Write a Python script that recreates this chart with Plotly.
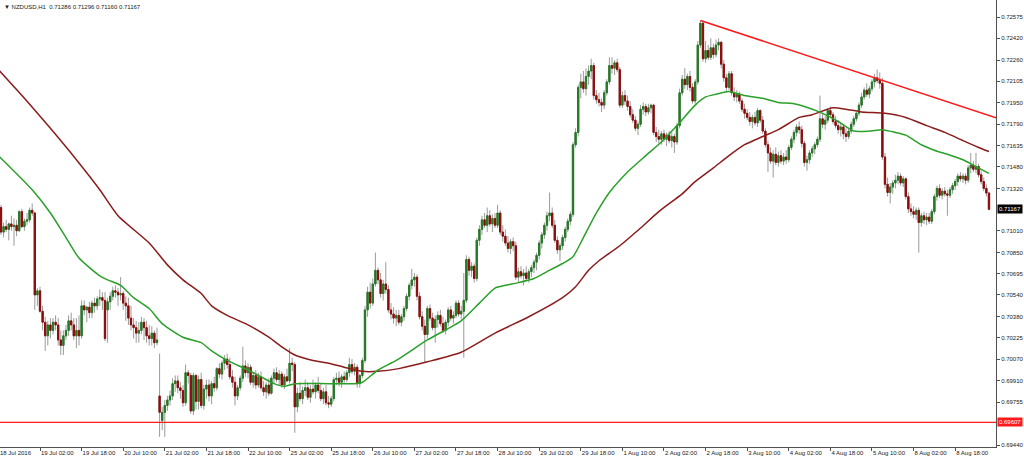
import plotly.graph_objects as go

# ---------------- data (NZDUSD H1) ----------------
SYMBOL_TITLE = "\u25BC NZDUSD,H1  0.71286 0.71296 0.71160 0.71167"

OPEN = [
0.7114,0.7118,0.7100,0.7104,0.7102,0.7106,0.7104,0.7105,0.7101,0.7115,
0.7104,0.7108,0.7109,0.7116,0.7114,0.7054,0.7057,0.7042,0.7034,0.7024,
0.7032,0.7028,0.7034,0.7032,0.7021,0.7017,0.7024,0.7028,0.7035,0.7032,
0.7024,0.7028,0.7024,0.7046,0.7043,0.7045,0.7041,0.7048,0.7046,0.7051,
0.7052,0.7050,0.7043,0.7049,0.7053,0.7057,0.7056,0.7054,0.7055,0.7048,
0.7046,0.7037,0.7032,0.7030,0.7026,0.7028,0.7034,0.7030,0.7024,0.7022,
0.7026,0.7019,0.6980,0.6962,0.6968,0.6973,0.6977,0.6980,0.6989,0.6991,
0.6986,0.6984,0.6975,0.6997,0.6995,0.6969,0.6995,0.6976,0.6992,0.6973,
0.6985,0.6988,0.6980,0.6989,0.6986,0.7000,0.6996,0.7004,0.7007,0.7003,
0.6994,0.6990,0.6980,0.6986,0.6993,0.7002,0.6997,0.7001,0.6990,0.6995,
0.6988,0.6994,0.6986,0.6983,0.6988,0.6982,0.6993,0.6997,0.6992,0.6996,
0.6988,0.6994,0.6991,0.7004,0.7003,0.6972,0.6982,0.6978,0.6984,0.6986,
0.6979,0.6985,0.6983,0.6988,0.6984,0.6978,0.6983,0.6975,0.6974,0.6978,
0.6992,0.6993,0.6990,0.6994,0.6992,0.6997,0.7003,0.6998,0.7001,0.6989,
0.6995,0.7006,0.7043,0.7056,0.7048,0.7062,0.7072,0.7065,0.7055,0.7062,
0.7058,0.7043,0.7040,0.7037,0.7039,0.7034,0.7038,0.7044,0.7053,0.7061,
0.7065,0.7067,0.7053,0.7038,0.7031,0.7025,0.7044,0.7037,0.7030,0.7036,
0.7039,0.7033,0.7028,0.7034,0.7043,0.7037,0.7039,0.7048,0.7040,0.7042,
0.7050,0.7080,0.7072,0.7075,0.7066,0.7094,0.7102,0.7109,0.7105,0.7112,
0.7106,0.7110,0.7105,0.7114,0.7100,0.7097,0.7092,0.7088,0.7093,0.7090,
0.7067,0.7071,0.7068,0.7070,0.7066,0.7071,0.7074,0.7078,0.7083,0.7092,
0.7098,0.7105,0.7112,0.7114,0.7105,0.7094,0.7087,0.7090,0.7096,0.7102,
0.7108,0.7113,0.7164,0.7173,0.7206,0.7210,0.7205,0.7214,0.7218,0.7222,
0.7200,0.7197,0.7195,0.7193,0.7202,0.7210,0.7222,0.7220,0.7224,0.7219,
0.7193,0.7200,0.7196,0.7192,0.7186,0.7182,0.7176,0.7179,0.7190,0.7192,
0.7188,0.7191,0.7193,0.7173,0.7170,0.7168,0.7172,0.7168,0.7171,0.7167,
0.7170,0.7166,0.7178,0.7202,0.7212,0.7208,0.7214,0.7206,0.7196,0.7210,
0.7237,0.7253,0.7227,0.7233,0.7228,0.7235,0.7230,0.7237,0.7239,0.7223,
0.7213,0.7206,0.7216,0.7202,0.7199,0.7201,0.7196,0.7190,0.7187,0.7184,
0.7181,0.7184,0.7180,0.7189,0.7182,0.7174,0.7164,0.7158,0.7152,0.7157,
0.7151,0.7156,0.7152,0.7155,0.7153,0.7162,0.7168,0.7173,0.7177,0.7175,
0.7165,0.7151,0.7153,0.7158,0.7161,0.7164,0.7168,0.7183,0.7179,0.7182,
0.7189,0.7186,0.7181,0.7178,0.7175,0.7177,0.7172,0.7170,0.7174,0.7179,
0.7183,0.7187,0.7193,0.7199,0.7204,0.7201,0.7205,0.7210,0.7213,0.7211,
0.7209,0.7155,0.7135,0.7129,0.7133,0.7136,0.7138,0.7141,0.7136,0.7139,
0.7126,0.7117,0.7115,0.7113,0.7116,0.7107,0.7112,0.7109,0.7111,0.7108,
0.7115,0.7126,0.7132,0.7127,0.7130,0.7128,0.7127,0.7131,0.7134,0.7137,
0.7141,0.7139,0.7141,0.7138,0.7147,0.7149,0.7146,0.7148,0.7142,0.7137,
0.7132,0.71286]

HIGH = [
0.7119,0.7120,0.7107,0.7109,0.7107,0.7112,0.7110,0.7109,0.7116,0.7117,
0.7110,0.7114,0.7118,0.7121,0.7115,0.7059,0.7060,0.7046,0.7038,0.7035,
0.7037,0.7037,0.7039,0.7037,0.7028,0.7028,0.7032,0.7039,0.7041,0.7037,
0.7037,0.7039,0.7050,0.7050,0.7046,0.7049,0.7050,0.7052,0.7053,0.7058,
0.7056,0.7056,0.7052,0.7056,0.7060,0.7061,0.7059,0.7067,0.7057,0.7053,
0.7052,0.7046,0.7037,0.7035,0.7034,0.7038,0.7037,0.7035,0.7032,0.7031,
0.7028,0.7030,0.7011,0.6972,0.6977,0.6980,0.6984,0.6993,0.6995,0.6995,
0.6990,0.6988,0.7003,0.6999,0.6997,0.6997,0.6996,0.6995,0.6997,0.6988,
0.6992,0.6992,0.6991,0.6994,0.7001,0.7004,0.7006,0.7010,0.7011,0.7008,
0.6999,0.6994,0.6988,0.6995,0.7016,0.7006,0.7004,0.7003,0.6997,0.6999,
0.6997,0.6998,0.6991,0.6990,0.6993,0.6995,0.7000,0.7001,0.6999,0.6998,
0.6996,0.7000,0.7015,0.7008,0.7005,0.6986,0.6990,0.6987,0.6992,0.6990,
0.6988,0.6992,0.6990,0.6994,0.6989,0.6986,0.6988,0.6980,0.6980,0.6994,
0.6997,0.6998,0.6996,0.6998,0.6999,0.7008,0.7007,0.7004,0.7003,0.6996,
0.7008,0.7046,0.7060,0.7063,0.7066,0.7085,0.7074,0.7070,0.7065,0.7078,
0.7061,0.7048,0.7045,0.7043,0.7043,0.7040,0.7046,0.7055,0.7063,0.7073,
0.7070,0.7069,0.7056,0.7042,0.7036,0.7046,0.7047,0.7041,0.7039,0.7042,
0.7043,0.7038,0.7036,0.7045,0.7046,0.7042,0.7050,0.7050,0.7046,0.7070,
0.7083,0.7082,0.7078,0.7077,0.7096,0.7105,0.7112,0.7114,0.7118,0.7116,
0.7113,0.7114,0.7120,0.7116,0.7105,0.7102,0.7097,0.7095,0.7096,0.7093,
0.7074,0.7075,0.7073,0.7075,0.7073,0.7076,0.7080,0.7085,0.7094,0.7100,
0.7107,0.7115,0.7129,0.7118,0.7109,0.7097,0.7092,0.7098,0.7104,0.7110,
0.7115,0.7166,0.7176,0.7208,0.7216,0.7218,0.7220,0.7222,0.7227,0.7224,
0.7204,0.7202,0.7198,0.7204,0.7212,0.7228,0.7228,0.7226,0.7227,0.7221,
0.7203,0.7204,0.7200,0.7196,0.7190,0.7185,0.7181,0.7193,0.7195,0.7194,
0.7194,0.7194,0.7194,0.7177,0.7175,0.7174,0.7175,0.7173,0.7174,0.7173,
0.7172,0.7180,0.7205,0.7215,0.7220,0.7216,0.7218,0.7209,0.7212,0.7240,
0.7255,0.7255,0.7240,0.7237,0.7242,0.7238,0.7241,0.7242,0.7240,0.7226,
0.7216,0.7218,0.7218,0.7206,0.7204,0.7203,0.7198,0.7194,0.7190,0.7188,
0.7186,0.7188,0.7191,0.7190,0.7185,0.7176,0.7167,0.7162,0.7160,0.7162,
0.7159,0.7160,0.7158,0.7160,0.7164,0.7170,0.7175,0.7179,0.7181,0.7178,
0.7167,0.7156,0.7160,0.7163,0.7166,0.7170,0.7200,0.7187,0.7185,0.7191,
0.7192,0.7188,0.7185,0.7182,0.7180,0.7179,0.7176,0.7176,0.7181,0.7185,
0.7188,0.7195,0.7202,0.7206,0.7209,0.7207,0.7212,0.7216,0.7219,0.7217,
0.7213,0.7158,0.7140,0.7136,0.7138,0.7142,0.7144,0.7143,0.7141,0.7140,
0.7129,0.7121,0.7119,0.7118,0.7118,0.7114,0.7115,0.7114,0.7114,0.7117,
0.7128,0.7134,0.7135,0.7132,0.7133,0.7131,0.7133,0.7136,0.7139,0.7143,
0.7144,0.7143,0.7143,0.7149,0.7158,0.7152,0.7158,0.7150,0.7145,0.7140,
0.7135,0.71296]

LOW = [
0.7112,0.7098,0.7096,0.7100,0.7094,0.7101,0.7090,0.7097,0.7100,0.7103,
0.7101,0.7105,0.7107,0.7112,0.7043,0.7046,0.7041,0.7028,0.7013,0.7017,
0.7022,0.7025,0.7028,0.7017,0.7010,0.7010,0.7021,0.7024,0.7028,0.7021,
0.7015,0.7017,0.7022,0.7039,0.7034,0.7037,0.7037,0.7041,0.7043,0.7046,
0.7043,0.7020,0.7019,0.7043,0.7050,0.7052,0.7046,0.7050,0.7043,0.7035,
0.7032,0.7028,0.7022,0.7019,0.7019,0.7025,0.7021,0.7019,0.7017,0.7017,
0.7015,0.7017,0.6950,0.6955,0.6950,0.6969,0.6973,0.6977,0.6983,0.6982,
0.6978,0.6972,0.6973,0.6989,0.6967,0.6966,0.6970,0.6970,0.6971,0.6970,
0.6978,0.6976,0.6974,0.6983,0.6984,0.6993,0.6992,0.6999,0.7000,0.6992,
0.6986,0.6973,0.6977,0.6984,0.6990,0.6994,0.6993,0.6988,0.6986,0.6985,
0.6986,0.6984,0.6980,0.6978,0.6980,0.6981,0.6989,0.6990,0.6988,0.6986,
0.6985,0.6990,0.6989,0.6998,0.6953,0.6968,0.6976,0.6974,0.6980,0.6977,
0.6975,0.6981,0.6978,0.6982,0.6976,0.6974,0.6973,0.6971,0.6972,0.6976,
0.6988,0.6987,0.6986,0.6989,0.6990,0.6994,0.6996,0.6995,0.6986,0.6986,
0.6993,0.7004,0.7038,0.7044,0.7046,0.7060,0.7062,0.7052,0.7050,0.7055,
0.7041,0.7036,0.7033,0.7031,0.7032,0.7031,0.7035,0.7042,0.7050,0.7058,
0.7060,0.7050,0.7036,0.7028,0.7004,0.7022,0.7035,0.7028,0.7019,0.7030,
0.7031,0.7026,0.7025,0.7031,0.7035,0.7033,0.7037,0.7038,0.7036,0.7008,
0.7048,0.7068,0.7067,0.7063,0.7064,0.7090,0.7098,0.7103,0.7100,0.7104,
0.7100,0.7103,0.7103,0.7098,0.7093,0.7090,0.7085,0.7084,0.7086,0.7065,
0.7063,0.7066,0.7061,0.7064,0.7063,0.7067,0.7070,0.7072,0.7080,0.7088,
0.7095,0.7101,0.7108,0.7103,0.7092,0.7084,0.7079,0.7087,0.7093,0.7100,
0.7105,0.7111,0.7162,0.7170,0.7198,0.7202,0.7200,0.7208,0.7212,0.7197,
0.7194,0.7192,0.7188,0.7190,0.7200,0.7208,0.7216,0.7215,0.7217,0.7191,
0.7191,0.7193,0.7189,0.7184,0.7180,0.7174,0.7171,0.7177,0.7186,0.7185,
0.7186,0.7187,0.7171,0.7166,0.7165,0.7164,0.7166,0.7163,0.7165,0.7162,
0.7158,0.7164,0.7176,0.7200,0.7205,0.7204,0.7203,0.7194,0.7194,0.7208,
0.7235,0.7225,0.7224,0.7226,0.7226,0.7227,0.7228,0.7233,0.7220,0.7210,
0.7203,0.7204,0.7200,0.7196,0.7195,0.7194,0.7188,0.7183,0.7182,0.7178,
0.7176,0.7178,0.7177,0.7180,0.7172,0.7162,0.7144,0.7150,0.7140,0.7149,
0.7148,0.7150,0.7149,0.7150,0.7151,0.7160,0.7165,0.7170,0.7172,0.7162,
0.7148,0.7145,0.7150,0.7155,0.7157,0.7162,0.7166,0.7176,0.7175,0.7180,
0.7184,0.7179,0.7176,0.7172,0.7170,0.7168,0.7166,0.7168,0.7172,0.7177,
0.7181,0.7185,0.7191,0.7197,0.7199,0.7198,0.7203,0.7206,0.7209,0.7205,
0.7153,0.7132,0.7126,0.7121,0.7128,0.7132,0.7135,0.7134,0.7133,0.7124,
0.7114,0.7112,0.7110,0.7109,0.7085,0.7104,0.7106,0.7105,0.7106,0.7106,
0.7113,0.7123,0.7125,0.7124,0.7126,0.7112,0.7125,0.7128,0.7131,0.7134,
0.7137,0.7136,0.7135,0.7136,0.7143,0.7144,0.7143,0.7140,0.7135,0.7130,
0.7126,0.71160]

CLOSE = [
0.7118,0.7100,0.7104,0.7102,0.7106,0.7104,0.7105,0.7101,0.7115,0.7104,
0.7108,0.7109,0.7116,0.7114,0.7054,0.7057,0.7042,0.7034,0.7024,0.7032,
0.7028,0.7034,0.7032,0.7021,0.7017,0.7024,0.7028,0.7035,0.7032,0.7024,
0.7028,0.7024,0.7046,0.7043,0.7045,0.7041,0.7048,0.7046,0.7051,0.7052,
0.7050,0.7022,0.7049,0.7053,0.7057,0.7056,0.7054,0.7055,0.7048,0.7046,
0.7037,0.7032,0.7030,0.7026,0.7028,0.7034,0.7030,0.7024,0.7022,0.7026,
0.7019,0.7021,0.6968,0.6968,0.6973,0.6977,0.6980,0.6989,0.6991,0.6986,
0.6984,0.6975,0.6997,0.6995,0.6969,0.6995,0.6976,0.6992,0.6973,0.6985,
0.6988,0.6980,0.6989,0.6986,0.7000,0.6996,0.7004,0.7007,0.7003,0.6994,
0.6990,0.6980,0.6986,0.6993,0.7002,0.6997,0.7001,0.6990,0.6995,0.6988,
0.6994,0.6986,0.6983,0.6988,0.6982,0.6993,0.6997,0.6992,0.6996,0.6988,
0.6994,0.6991,0.7004,0.7003,0.6972,0.6982,0.6978,0.6984,0.6986,0.6979,
0.6985,0.6983,0.6988,0.6984,0.6978,0.6983,0.6975,0.6974,0.6978,0.6992,
0.6993,0.6990,0.6994,0.6992,0.6997,0.7003,0.6998,0.7001,0.6989,0.6995,
0.7006,0.7043,0.7056,0.7048,0.7062,0.7072,0.7065,0.7055,0.7062,0.7058,
0.7043,0.7040,0.7037,0.7039,0.7034,0.7038,0.7044,0.7053,0.7061,0.7065,
0.7067,0.7053,0.7038,0.7031,0.7025,0.7044,0.7037,0.7030,0.7036,0.7039,
0.7033,0.7028,0.7034,0.7043,0.7037,0.7039,0.7048,0.7040,0.7042,0.7050,
0.7080,0.7072,0.7075,0.7066,0.7094,0.7102,0.7109,0.7105,0.7112,0.7106,
0.7110,0.7105,0.7114,0.7100,0.7097,0.7092,0.7088,0.7093,0.7090,0.7067,
0.7071,0.7068,0.7070,0.7066,0.7071,0.7074,0.7078,0.7083,0.7092,0.7098,
0.7105,0.7112,0.7114,0.7105,0.7094,0.7087,0.7090,0.7096,0.7102,0.7108,
0.7113,0.7164,0.7173,0.7206,0.7210,0.7205,0.7214,0.7218,0.7222,0.7200,
0.7197,0.7195,0.7193,0.7202,0.7210,0.7222,0.7220,0.7224,0.7219,0.7193,
0.7200,0.7196,0.7192,0.7186,0.7182,0.7176,0.7179,0.7190,0.7192,0.7188,
0.7191,0.7193,0.7173,0.7170,0.7168,0.7172,0.7168,0.7171,0.7167,0.7170,
0.7166,0.7178,0.7202,0.7212,0.7208,0.7214,0.7206,0.7196,0.7210,0.7237,
0.7253,0.7227,0.7233,0.7228,0.7235,0.7230,0.7237,0.7239,0.7223,0.7213,
0.7206,0.7216,0.7202,0.7199,0.7201,0.7196,0.7190,0.7187,0.7184,0.7181,
0.7184,0.7180,0.7189,0.7182,0.7174,0.7164,0.7158,0.7152,0.7157,0.7151,
0.7156,0.7152,0.7155,0.7153,0.7162,0.7168,0.7173,0.7177,0.7175,0.7165,
0.7151,0.7153,0.7158,0.7161,0.7164,0.7168,0.7183,0.7179,0.7182,0.7189,
0.7186,0.7181,0.7178,0.7175,0.7177,0.7172,0.7170,0.7174,0.7179,0.7183,
0.7187,0.7193,0.7199,0.7204,0.7201,0.7205,0.7210,0.7213,0.7211,0.7209,
0.7155,0.7135,0.7129,0.7133,0.7136,0.7138,0.7141,0.7136,0.7139,0.7126,
0.7117,0.7115,0.7113,0.7116,0.7107,0.7112,0.7109,0.7111,0.7108,0.7115,
0.7126,0.7132,0.7127,0.7130,0.7128,0.7127,0.7131,0.7134,0.7137,0.7141,
0.7139,0.7141,0.7138,0.7147,0.7149,0.7146,0.7148,0.7142,0.7137,0.7132,
0.71286,0.71167]

# moving averages, read at sample bars
MA_FAST_BARS = [0,13,20,26,31,39,42,47,52,58,63,71,78,82,88,96,101,106,110,114,
                127,137,140,146,153,165,178,185,191,195,200,206,211,217,221,225,230,
                235,242,249,255,261,268,272,276,281,287,294,300,306,310,317,323,329,
                335,340,345,349,355,360,365,371,375,378,381]
MA_FAST = [0.7156,0.7131,0.7114,0.7096,0.7081,0.7068,0.7065,0.7061,0.7052,0.7044,
           0.7033,0.7023,0.7019,0.7013,0.7006,0.6999,0.6994,0.6989,0.6987,0.6989,
           0.6989,0.6989,0.6990,0.6999,0.7006,0.7021,0.7035,0.7048,0.7059,0.7061,
           0.7063,0.7066,0.7071,0.7077,0.7082,0.7096,0.7114,0.7129,0.7144,0.7156,
           0.7166,0.7178,0.7193,0.7199,0.7201,0.7203,0.7200,0.7198,0.7195,0.7194,
           0.7192,0.7187,0.7181,0.7174,0.7174,0.7175,0.7173,0.7171,0.7164,0.7160,
           0.7157,0.7153,0.7149,0.7146,0.7143]

MA_SLOW_BARS = [0,10,20,30,39,46,58,65,71,78,82,88,96,104,109,114,121,127,133,140,
                146,154,165,178,191,204,217,222,227,231,239,247,254,263,268,275,281,
                287,294,300,308,313,321,326,332,341,349,357,364,371,377,381]
MA_SLOW = [0.7219,0.7198,0.7176,0.7153,0.7131,0.7112,0.7092,0.7076,0.7065,0.7055,
           0.7046,0.7039,0.7032,0.7023,0.7016,0.7010,0.7006,0.7004,0.7001,0.6998,
           0.6998,0.7000,0.7005,0.7012,0.7026,0.7038,0.7052,0.7060,0.7072,0.7079,
           0.7090,0.7103,0.7115,0.7128,0.7137,0.7147,0.7156,0.7164,0.7170,0.7175,
           0.7184,0.7186,0.7191,0.7190,0.7188,0.7187,0.7184,0.7178,0.7173,0.7167,
           0.7162,0.7159]

TREND_BARS = [270, 338]
TREND_PRICES = [0.7255, 0.72124]
SUPPORT_LEVEL = 0.69607
LAST_PRICE = 0.71167

FIRST_LABEL = "18 Jul 2016"
TICK_BARS = [16,32,48,64,80,96,112,128,144,160,176,192,208,224,240,256,272,288,304,320,336,352,368]
TICK_LABELS = ["19 Jul 02:00","19 Jul 18:00","20 Jul 10:00","21 Jul 02:00","21 Jul 18:00",
               "22 Jul 10:00","25 Jul 02:00","25 Jul 18:00","26 Jul 10:00","27 Jul 02:00",
               "27 Jul 18:00","28 Jul 10:00","29 Jul 02:00","29 Jul 18:00","1 Aug 10:00",
               "2 Aug 02:00","2 Aug 18:00","3 Aug 10:00","4 Aug 02:00","4 Aug 18:00",
               "5 Aug 10:00","8 Aug 02:00","8 Aug 18:00"]
PRICE_TICKS = ["0.72575","0.72420","0.72260","0.72105","0.71950","0.71790","0.71635",
               "0.71480","0.71320","0.71010","0.70850","0.70695","0.70540","0.70380",
               "0.70225","0.70070","0.69910","0.69755","0.69440"]

# ---------------- figure ----------------
BARS = list(range(len(CLOSE)))
X_RANGE = [0.615, 383.7]
Y_RANGE = [0.69426, 0.72700]

WICK = "#9a9a9a"
BULL = "#237a23"
BEAR = "#8e0b0b"
FONT = dict(family="Liberation Sans, Arial, sans-serif", size=6, color="#202020")

fig = go.Figure()

# full candles in grey (wicks)
fig.add_trace(go.Candlestick(
    x=BARS, open=OPEN, high=HIGH, low=LOW, close=CLOSE,
    increasing=dict(line=dict(color=WICK, width=1), fillcolor=WICK),
    decreasing=dict(line=dict(color=WICK, width=1), fillcolor=WICK),
    whiskerwidth=0, hoverinfo="skip", showlegend=False))

# coloured bodies
body_hi = [max(o, c) for o, c in zip(OPEN, CLOSE)]
body_lo = [min(o, c) for o, c in zip(OPEN, CLOSE)]
fig.add_trace(go.Candlestick(
    x=BARS, open=OPEN, high=body_hi, low=body_lo, close=CLOSE,
    increasing=dict(line=dict(color=BULL, width=1), fillcolor=BULL),
    decreasing=dict(line=dict(color=BEAR, width=1), fillcolor=BEAR),
    whiskerwidth=0, hoverinfo="skip", showlegend=False))

fig.add_trace(go.Scatter(x=MA_SLOW_BARS, y=MA_SLOW, mode="lines",
                         line=dict(color="#8b1c1c", width=1.5, shape="spline", smoothing=0.6),
                         hoverinfo="skip", showlegend=False))
fig.add_trace(go.Scatter(x=MA_FAST_BARS, y=MA_FAST, mode="lines",
                         line=dict(color="#2aa02a", width=1.5, shape="spline", smoothing=0.6),
                         hoverinfo="skip", showlegend=False))

# trend line (ray from two anchors to the right edge)
slope = (TREND_PRICES[1] - TREND_PRICES[0]) / (TREND_BARS[1] - TREND_BARS[0])
trend_x = [TREND_BARS[0], X_RANGE[1]]
trend_y = [TREND_PRICES[0], TREND_PRICES[0] + slope * (X_RANGE[1] - TREND_BARS[0])]
fig.add_trace(go.Scatter(x=trend_x, y=trend_y, mode="lines",
                         line=dict(color="#ff1a1a", width=1.6),
                         hoverinfo="skip", showlegend=False))

fig.add_shape(type="line", xref="paper", x0=0, x1=1, yref="y",
              y0=SUPPORT_LEVEL, y1=SUPPORT_LEVEL,
              line=dict(color="#ff1a1a", width=1.2))

annotations = [
    dict(xref="paper", yref="paper", x=0, y=1, xanchor="left", yanchor="top",
         xshift=2, yshift=-2, text=SYMBOL_TITLE, showarrow=False, font=FONT),
    dict(xref="paper", yref="paper", x=0, y=0, xanchor="left", yanchor="top",
         xshift=-2, yshift=-1, text=FIRST_LABEL, showarrow=False, font=FONT),
    dict(xref="paper", yref="y", x=1, y=LAST_PRICE, xanchor="left", yanchor="middle",
         xshift=1, text="%.5f" % LAST_PRICE, showarrow=False, bgcolor="#000000",
         borderpad=1, font=dict(family=FONT["family"], size=6, color="#ffffff")),
    dict(xref="paper", yref="y", x=1, y=SUPPORT_LEVEL, xanchor="left", yanchor="middle",
         xshift=1, text="%.5f" % SUPPORT_LEVEL, showarrow=False, bgcolor="#ff1a1a",
         borderpad=1, font=dict(family=FONT["family"], size=6, color="#ffffff")),
]

fig.update_layout(
    width=1024, height=459,
    margin=dict(l=0, r=28, t=0, b=12),
    paper_bgcolor="#ffffff", plot_bgcolor="#ffffff",
    showlegend=False, annotations=annotations,
    xaxis=dict(range=X_RANGE, showgrid=False, zeroline=False,
               showline=True, linecolor="#505050", linewidth=1,
               ticks="outside", ticklen=3, tickcolor="#505050",
               tickvals=TICK_BARS, ticktext=TICK_LABELS, tickangle=0,
               ticklabelposition="outside right", tickfont=FONT,
               rangeslider=dict(visible=False), fixedrange=True),
    yaxis=dict(range=Y_RANGE, side="right", showgrid=False, zeroline=False,
               showline=True, linecolor="#505050", linewidth=1,
               ticks="outside", ticklen=3, tickcolor="#505050",
               tickvals=[float(t) for t in PRICE_TICKS], ticktext=PRICE_TICKS,
               tickfont=FONT, fixedrange=True),
)

fig.write_html("out.html", config={"displayModeBar": False},
               post_script="document.body.style.margin='0';document.body.style.overflow='hidden';")
